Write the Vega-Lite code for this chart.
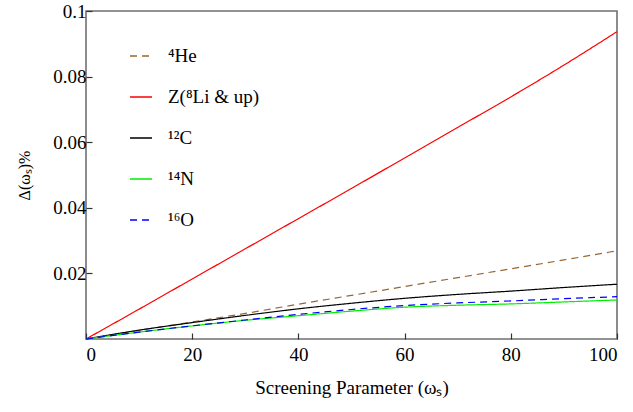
{
  "$schema": "https://vega.github.io/schema/vega-lite/v6.json",
  "width": 531,
  "height": 328,
  "autosize": {"type": "none"},
  "padding": {"left": 86, "top": 11, "right": 16, "bottom": 73},
  "background": "white",
  "config": {
    "font": "Liberation Serif",
    "view": {"stroke": "#707070", "strokeWidth": 1.6},
    "legend": {"labelFont": "Liberation Serif"},
    "axis": {"domain": false, "grid": false, "labelFont": "Liberation Serif", "titleFont": "Liberation Serif", "labelColor": "black", "titleColor": "black", "tickColor": "#333", "tickSize": -6, "tickWidth": 1.2, "labelFontSize": 19, "titleFontWeight": "normal"}
  },
  "data": {
    "values": [
      {"x": 0, "v": 0, "s": "He"}, {"x": 10, "v": 0.0026, "s": "He"}, {"x": 20, "v": 0.0052, "s": "He"}, {"x": 30, "v": 0.0078, "s": "He"}, {"x": 40, "v": 0.0106, "s": "He"}, {"x": 50, "v": 0.0133, "s": "He"}, {"x": 60, "v": 0.016, "s": "He"}, {"x": 70, "v": 0.0187, "s": "He"}, {"x": 80, "v": 0.0214, "s": "He"}, {"x": 90, "v": 0.0241, "s": "He"}, {"x": 100, "v": 0.0269, "s": "He"},
      {"x": 0, "v": 0, "s": "Z"}, {"x": 10, "v": 0.0091, "s": "Z"}, {"x": 20, "v": 0.0183, "s": "Z"}, {"x": 30, "v": 0.0275, "s": "Z"}, {"x": 40, "v": 0.0367, "s": "Z"}, {"x": 50, "v": 0.0459, "s": "Z"}, {"x": 60, "v": 0.0552, "s": "Z"}, {"x": 70, "v": 0.0645, "s": "Z"}, {"x": 80, "v": 0.0738, "s": "Z"}, {"x": 90, "v": 0.0835, "s": "Z"}, {"x": 100, "v": 0.0937, "s": "Z"},
      {"x": 0, "v": 0, "s": "C"}, {"x": 10, "v": 0.0027, "s": "C"}, {"x": 20, "v": 0.005, "s": "C"}, {"x": 30, "v": 0.0072, "s": "C"}, {"x": 40, "v": 0.0092, "s": "C"}, {"x": 50, "v": 0.0109, "s": "C"}, {"x": 60, "v": 0.0124, "s": "C"}, {"x": 70, "v": 0.0136, "s": "C"}, {"x": 80, "v": 0.0146, "s": "C"}, {"x": 90, "v": 0.0157, "s": "C"}, {"x": 100, "v": 0.0167, "s": "C"},
      {"x": 0, "v": 0, "s": "N"}, {"x": 10, "v": 0.0021, "s": "N"}, {"x": 20, "v": 0.004, "s": "N"}, {"x": 30, "v": 0.0057, "s": "N"}, {"x": 40, "v": 0.0071, "s": "N"}, {"x": 50, "v": 0.0085, "s": "N"}, {"x": 60, "v": 0.0097, "s": "N"}, {"x": 70, "v": 0.0103, "s": "N"}, {"x": 80, "v": 0.0107, "s": "N"}, {"x": 90, "v": 0.0113, "s": "N"}, {"x": 100, "v": 0.0119, "s": "N"},
      {"x": 0, "v": 0, "s": "O"}, {"x": 10, "v": 0.0021, "s": "O"}, {"x": 20, "v": 0.004, "s": "O"}, {"x": 30, "v": 0.0058, "s": "O"}, {"x": 40, "v": 0.0075, "s": "O"}, {"x": 50, "v": 0.009, "s": "O"}, {"x": 60, "v": 0.0102, "s": "O"}, {"x": 70, "v": 0.011, "s": "O"}, {"x": 80, "v": 0.0116, "s": "O"}, {"x": 90, "v": 0.0123, "s": "O"}, {"x": 100, "v": 0.0129, "s": "O"}
    ]
  },
  "mark": {"type": "line", "strokeWidth": 1.2, "interpolate": "monotone"},
  "encoding": {
    "x": {"field": "x", "type": "quantitative", "scale": {"domain": [0, 100], "nice": false},
      "axis": {"values": [0, 20, 40, 60, 80, 100], "title": "Screening Parameter (ωₛ)", "titleFontSize": 19, "titlePadding": 14, "labelPadding": 12}},
    "y": {"field": "v", "type": "quantitative", "scale": {"domain": [0, 0.1], "nice": false},
      "axis": {"values": [0.02, 0.04, 0.06, 0.08, 0.1], "format": "~g", "title": "Δ(ωₛ)%", "titleFontSize": 16, "titlePadding": 20, "labelPadding": 6}},
    "color": {"field": "s", "type": "nominal",
      "scale": {"domain": ["He", "Z", "C", "N", "O"], "range": ["#996633", "#ff0000", "#000000", "#00ee00", "#0000ff"]},
      "legend": {"title": null, "orient": "none", "legendX": 43, "legendY": 33, "symbolType": "stroke", "symbolSize": 484, "symbolStrokeWidth": 1.3, "labelFontSize": 19, "labelFont": "Liberation Serif", "labelOffset": 15, "rowPadding": 19,
        "labelExpr": "datum.label == 'He' ? '  ⁴He' : datum.label == 'Z' ? 'Z(⁸Li & up)' : datum.label == 'C' ? '  ¹²C' : datum.label == 'N' ? '  ¹⁴N' : '  ¹⁶O'"}},
    "strokeDash": {"field": "s", "type": "nominal",
      "scale": {"domain": ["He", "Z", "C", "N", "O"], "range": [[7, 5], [1, 0], [1, 0], [1, 0], [7, 5]]},
      "legend": {"title": null, "orient": "none", "legendX": 43, "legendY": 33, "symbolType": "stroke", "symbolSize": 484, "symbolStrokeWidth": 1.3, "labelFontSize": 19, "labelFont": "Liberation Serif", "labelOffset": 15, "rowPadding": 19,
        "labelExpr": "datum.label == 'He' ? '  ⁴He' : datum.label == 'Z' ? 'Z(⁸Li & up)' : datum.label == 'C' ? '  ¹²C' : datum.label == 'N' ? '  ¹⁴N' : '  ¹⁶O'"}}
  }
}
